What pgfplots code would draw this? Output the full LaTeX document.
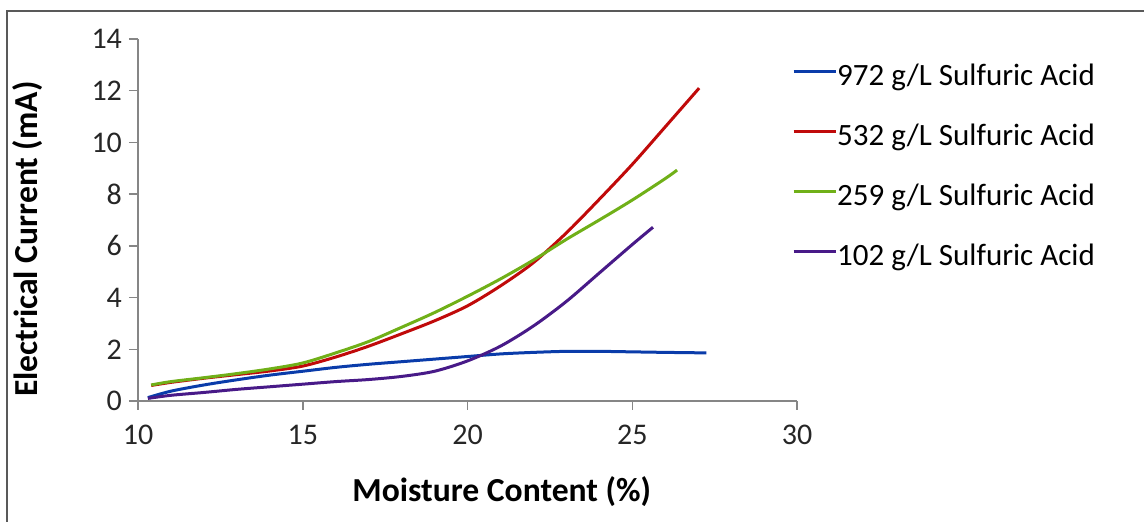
\documentclass[border=0pt]{standalone}
\usepackage{fontspec}
\setmainfont{Carlito}
\usepackage{pgfplots}
\pgfplotsset{compat=1.18}
\definecolor{cblue}{RGB}{10,60,170}
\definecolor{cred}{RGB}{192,10,10}
\definecolor{cgreen}{RGB}{112,176,24}
\definecolor{cpurple}{RGB}{72,26,136}
\definecolor{axisgray}{RGB}{134,134,134}
\begin{document}
\begin{tikzpicture}
\useasboundingbox (-69pt,-60.5pt) rectangle (503pt,200.5pt);
\draw[black!65, line width=0.7pt] (-65.5pt,-70pt) -- (-65.5pt,195pt) -- (510pt,195pt);
\begin{axis}[
  at={(0,0)}, anchor=south west,
  scale only axis, width=329.5pt, height=181pt,
  xmin=10, xmax=30, ymin=0, ymax=14,
  xtick={10,15,20,25,30}, ytick={0,2,4,6,8,10,12,14},
  axis x line=bottom, axis y line=left,
  axis line style={-, draw=axisgray, line width=0.75pt},
  tick style={draw=axisgray, line width=0.75pt},
  tick align=outside, major tick length=4.5pt,
  /pgf/number format/assume math mode=true,
  tick label style={font=\fontsize{15}{17}\selectfont, text=black!85},
  xticklabel style={yshift=-4pt},
  xlabel={Moisture Content (\%)},
  ylabel={Electrical Current (mA)},
  label style={font=\bfseries\fontsize{16.8}{19}\selectfont},
  xlabel style={at={(axis description cs:0.552,-0.251)}, anchor=center},
  ylabel style={at={(axis description cs:-0.168,0.447)}, anchor=center},
  legend style={at={(0.992,0.933)}, anchor=north west, draw=none, fill=none,
    font=\fontsize{15.5}{17}\selectfont, inner sep=0pt, row sep=15pt,
    nodes={inner xsep=0pt, inner ysep=1pt, text height=10pt, text depth=3pt}},
  legend cell align=left,
  legend image code/.code={\draw[#1, line width=1.5pt] (0pt,3.5pt) -- (21pt,3.5pt);},
  every axis plot/.append style={line width=1.5pt, smooth, tension=0.5},
]
\addplot[cblue] coordinates {
(10.3,0.13) (11,0.38) (12,0.62) (13,0.82) (14,1.0) (15,1.15) (16,1.3) (17,1.42)
(18,1.52) (19,1.62) (20,1.72) (21,1.82) (22,1.88) (23,1.92) (24,1.92) (25,1.9)
(26,1.88) (27.25,1.86)};
\addlegendentry{972 g/L Sulfuric Acid}
\addplot[cred] coordinates {
(10.4,0.6) (11,0.72) (12,0.88) (13,1.02) (14,1.16) (15,1.35) (16,1.7) (17,2.12)
(18,2.6) (19,3.1) (20,3.68) (21,4.45) (22,5.35) (23,6.5) (24,7.8) (25,9.15)
(26,10.6) (27.03,12.1)};
\addlegendentry{532 g/L Sulfuric Acid}
\addplot[cgreen] coordinates {
(10.4,0.62) (11,0.75) (12,0.9) (13,1.06) (14,1.24) (15,1.47) (16,1.86) (17,2.3)
(18,2.85) (19,3.42) (20,4.05) (21,4.72) (22,5.45) (23,6.25) (24,7.0) (25,7.77)
(26,8.6) (26.36,8.93)};
\addlegendentry{259 g/L Sulfuric Acid}
\addplot[cpurple] coordinates {
(10.3,0.1) (11,0.22) (12,0.33) (13,0.45) (14,0.55) (15,0.65) (16,0.75) (17,0.83)
(18,0.95) (19,1.15) (20,1.55) (21,2.12) (22,2.9) (23,3.85) (24,4.95) (25,6.05)
(25.63,6.72)};
\addlegendentry{102 g/L Sulfuric Acid}
\end{axis}
\end{tikzpicture}
\end{document}
